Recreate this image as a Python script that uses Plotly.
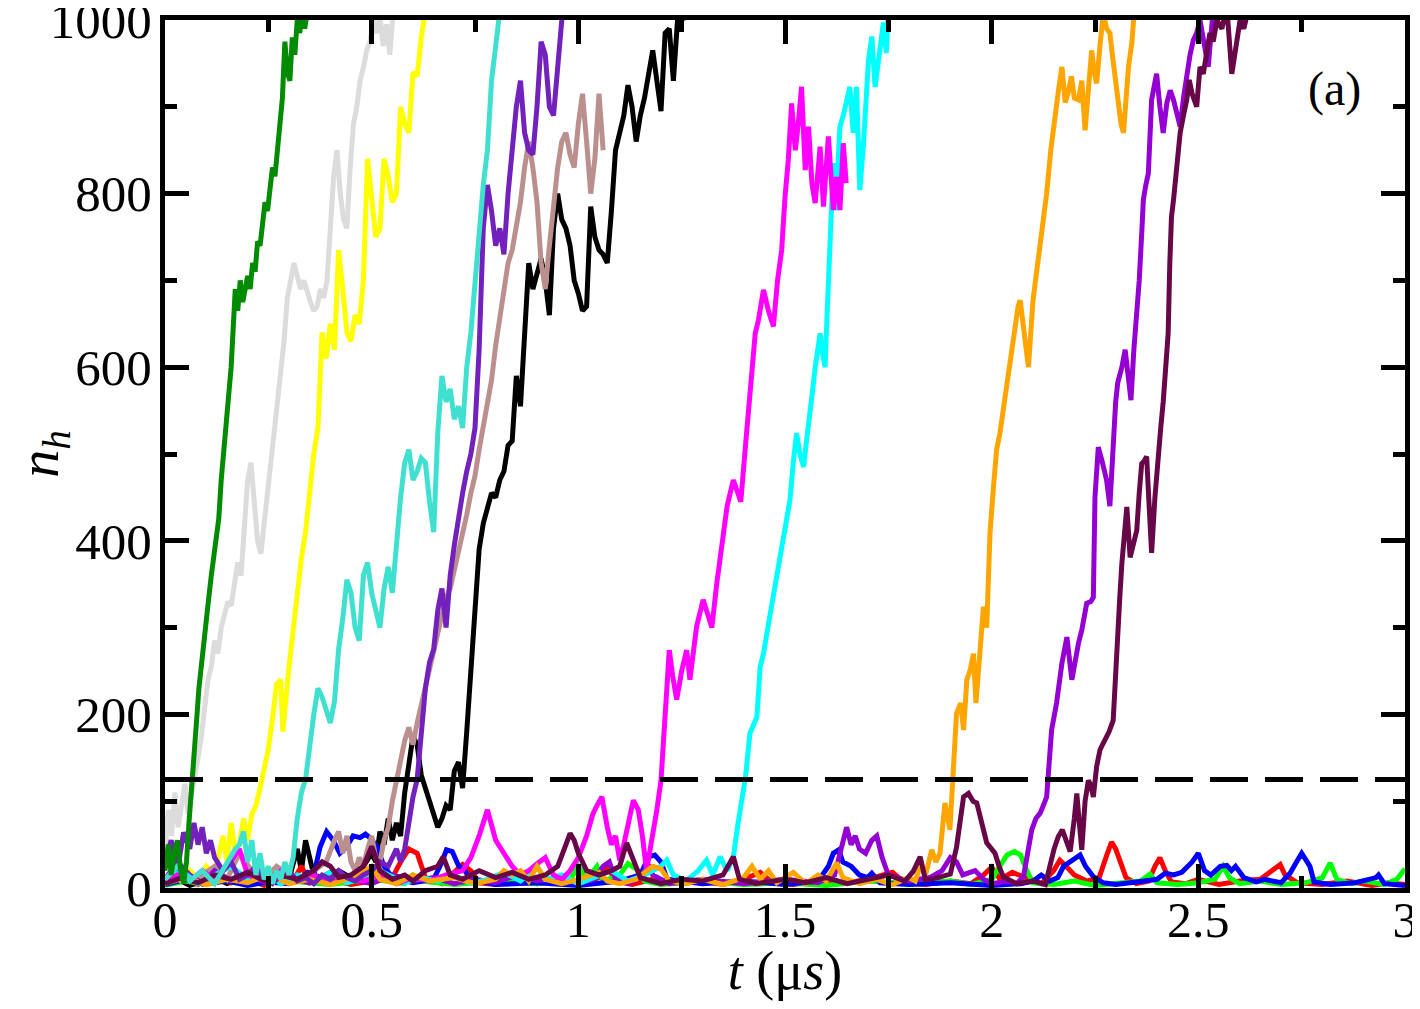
import plotly.graph_objects as go

# n_h trajectories, as (t in us, n_h) pairs
black = [(0, 5), (0.03, 10), (0.06, 3), (0.09, 8), (0.12, 12), (0.15, 5), (0.18, 10), (0.21, 4), (0.24, 8),
         (0.27, 15), (0.3, 10), (0.32, 45), (0.33, 20), (0.34, 55), (0.36, 15), (0.39, 10), (0.42, 20),
         (0.45, 12), (0.48, 25), (0.5, 40), (0.51, 30), (0.52, 65), (0.53, 50), (0.54, 80), (0.55, 55),
         (0.56, 75), (0.57, 60), (0.58, 110), (0.59, 140), (0.6, 175), (0.61, 165), (0.62, 130), (0.63, 115),
         (0.64, 100), (0.65, 85), (0.66, 70), (0.67, 80), (0.68, 95), (0.69, 90), (0.7, 135), (0.71, 145),
         (0.72, 115), (0.73, 180), (0.74, 250), (0.75, 330), (0.76, 390), (0.77, 420), (0.78, 440), (0.79, 455),
         (0.8, 450), (0.81, 470), (0.82, 480), (0.83, 510), (0.84, 515), (0.85, 590), (0.86, 555), (0.87, 640),
         (0.88, 720), (0.89, 690), (0.9, 710), (0.91, 725), (0.92, 700), (0.93, 660), (0.94, 760), (0.95, 800),
         (0.96, 770), (0.97, 760), (0.98, 740), (0.99, 700), (1.0, 685), (1.01, 665), (1.02, 670), (1.03, 785),
         (1.04, 750), (1.05, 735), (1.06, 730), (1.07, 720), (1.08, 780), (1.09, 850), (1.1, 870), (1.11, 890),
         (1.12, 925), (1.13, 900), (1.14, 860), (1.15, 890), (1.16, 910), (1.17, 940), (1.18, 965), (1.19, 930),
         (1.2, 895), (1.21, 985), (1.22, 990), (1.23, 930), (1.24, 1000), (1.25, 1010), (1.26, 1000)]

red = [(0, 5), (0.04, 12), (0.08, 4), (0.12, 15), (0.16, 6), (0.2, 10), (0.24, 3), (0.28, 12), (0.31, 8),
       (0.33, 25), (0.35, 6), (0.4, 10), (0.45, 4), (0.5, 8), (0.55, 12), (0.57, 30), (0.59, 45), (0.61, 40),
       (0.63, 12), (0.67, 5), (0.7, 18), (0.72, 27), (0.74, 20), (0.76, 6), (0.8, 4), (0.85, 10), (0.9, 5),
       (0.95, 8), (1.0, 4), (1.05, 12), (1.07, 25), (1.09, 8), (1.13, 4), (1.18, 10), (1.25, 5), (1.3, 8),
       (1.35, 4), (1.4, 10), (1.44, 18), (1.47, 6), (1.52, 4), (1.58, 8), (1.64, 5), (1.7, 10), (1.76, 18),
       (1.79, 6), (1.84, 4), (1.9, 8), (1.95, 5), (1.98, 15), (2.0, 24), (2.02, 10), (2.05, 18), (2.08, 12),
       (2.12, 5), (2.15, 20), (2.165, 32), (2.18, 25), (2.2, 15), (2.23, 8), (2.26, 12), (2.28, 40),
       (2.29, 53), (2.3, 45), (2.31, 32), (2.325, 12), (2.35, 5), (2.38, 8), (2.395, 25), (2.407, 35),
       (2.42, 20), (2.435, 7), (2.47, 5), (2.5, 10), (2.55, 4), (2.6, 8), (2.65, 10), (2.68, 20), (2.698, 27),
       (2.71, 15), (2.74, 6), (2.8, 4), (2.86, 8), (2.92, 3), (2.96, 6), (3.0, 4)]

lime = [(0, 3), (0.05, 8), (0.1, 4), (0.15, 10), (0.2, 5), (0.3, 8), (0.4, 4), (0.5, 10), (0.58, 5), (0.6, 15),
        (0.62, 8), (0.7, 4), (0.8, 8), (0.9, 5), (0.98, 10), (1.0, 25), (1.02, 10), (1.045, 25), (1.06, 8),
        (1.1, 15), (1.12, 28), (1.14, 22), (1.16, 8), (1.2, 4), (1.3, 8), (1.4, 4), (1.5, 6), (1.6, 3), (1.7, 8),
        (1.8, 5), (1.9, 8), (1.95, 4), (2.0, 10), (2.02, 25), (2.037, 38), (2.055, 42), (2.07, 38), (2.085, 20),
        (2.1, 6), (2.15, 4), (2.2, 8), (2.25, 3), (2.3, 5), (2.36, 8), (2.383, 16), (2.4, 6), (2.45, 4),
        (2.5, 6), (2.54, 10), (2.56, 25), (2.575, 12), (2.6, 5), (2.65, 8), (2.7, 4), (2.76, 6), (2.8, 12),
        (2.819, 29), (2.835, 10), (2.87, 5), (2.9, 8), (2.95, 4), (2.98, 10), (3.0, 22)]

blue = [(0, 4), (0.05, 10), (0.1, 5), (0.15, 8), (0.2, 3), (0.25, 7), (0.3, 5), (0.33, 12), (0.345, 18),
        (0.36, 15), (0.375, 47), (0.391, 65), (0.407, 55), (0.423, 40), (0.44, 48), (0.455, 60), (0.472, 58),
        (0.485, 62), (0.496, 58), (0.512, 48), (0.53, 25), (0.55, 12), (0.6, 6), (0.65, 10), (0.67, 30),
        (0.681, 44), (0.695, 42), (0.71, 26), (0.725, 20), (0.74, 10), (0.8, 4), (0.9, 6), (1.0, 3), (1.1, 8),
        (1.15, 15), (1.17, 36), (1.185, 38), (1.2, 30), (1.215, 10), (1.3, 5), (1.4, 8), (1.5, 4), (1.58, 8),
        (1.605, 25), (1.617, 40), (1.63, 44), (1.64, 30), (1.66, 25), (1.68, 15), (1.7, 12), (1.71, 17),
        (1.73, 6), (1.8, 4), (1.9, 6), (2.0, 3), (2.07, 5), (2.1, 8), (2.12, 15), (2.14, 8), (2.16, 12),
        (2.174, 25), (2.19, 30), (2.198, 32), (2.214, 38), (2.227, 25), (2.246, 13), (2.27, 6), (2.3, 4),
        (2.35, 7), (2.4, 10), (2.42, 17), (2.44, 15), (2.46, 18), (2.485, 30), (2.5, 40), (2.515, 20),
        (2.53, 15), (2.553, 25), (2.569, 26), (2.58, 20), (2.59, 25), (2.61, 12), (2.64, 7), (2.66, 10),
        (2.7, 6), (2.722, 17), (2.735, 28), (2.75, 40), (2.77, 25), (2.78, 7), (2.82, 4), (2.88, 6),
        (2.93, 12), (2.936, 15), (2.95, 5), (3.0, 3)]

yellow = [(0, 5), (0.02, 15), (0.04, 8), (0.06, 20), (0.08, 10), (0.1, 25), (0.12, 15), (0.14, 60), (0.15, 30),
          (0.16, 75), (0.17, 40), (0.18, 50), (0.19, 80), (0.2, 55), (0.21, 85), (0.22, 95), (0.23, 115),
          (0.24, 135), (0.25, 160), (0.26, 195), (0.27, 235), (0.28, 240), (0.285, 180), (0.3, 255),
          (0.31, 300), (0.32, 340), (0.33, 380), (0.34, 410), (0.35, 460), (0.36, 500), (0.37, 530),
          (0.38, 640), (0.39, 610), (0.4, 650), (0.41, 620), (0.42, 735), (0.43, 690), (0.44, 640), (0.45, 630),
          (0.46, 660), (0.47, 650), (0.48, 700), (0.49, 840), (0.5, 790), (0.51, 750), (0.52, 760), (0.53, 840),
          (0.54, 820), (0.55, 790), (0.56, 800), (0.57, 900), (0.58, 880), (0.59, 870), (0.6, 940), (0.61, 935),
          (0.62, 980), (0.63, 1010)]

brown = [(0, 10), (0.03, 20), (0.06, 8), (0.09, 15), (0.12, 25), (0.15, 10), (0.18, 40), (0.21, 20), (0.24, 10),
         (0.27, 25), (0.3, 15), (0.33, 10), (0.36, 20), (0.39, 30), (0.41, 55), (0.42, 65), (0.43, 40), (0.44, 60),
         (0.45, 30), (0.46, 20), (0.47, 35), (0.48, 25), (0.49, 45), (0.5, 60), (0.51, 35), (0.52, 30), (0.53, 55),
         (0.54, 70), (0.55, 100), (0.56, 125), (0.57, 150), (0.58, 170), (0.59, 185), (0.6, 165), (0.61, 190),
         (0.62, 210), (0.63, 235), (0.64, 255), (0.65, 270), (0.66, 290), (0.67, 315), (0.68, 335), (0.69, 345),
         (0.7, 365), (0.71, 390), (0.72, 410), (0.73, 430), (0.74, 455), (0.75, 475), (0.76, 505), (0.77, 530),
         (0.78, 560), (0.79, 585), (0.8, 625), (0.81, 660), (0.82, 690), (0.83, 720), (0.84, 735), (0.85, 760),
         (0.86, 790), (0.87, 830), (0.88, 860), (0.89, 830), (0.9, 790), (0.91, 720), (0.92, 690), (0.93, 740),
         (0.94, 790), (0.95, 830), (0.96, 860), (0.97, 870), (0.98, 845), (0.99, 830), (1.0, 880), (1.01, 915),
         (1.02, 860), (1.03, 800), (1.04, 840), (1.05, 915), (1.06, 850)]

grey = [(0, 40), (0.008, 90), (0.016, 60), (0.024, 110), (0.032, 70), (0.04, 95), (0.048, 120), (0.056, 85),
        (0.064, 105), (0.072, 130), (0.08, 150), (0.088, 175), (0.096, 210), (0.104, 240), (0.112, 255),
        (0.12, 285), (0.128, 270), (0.136, 300), (0.144, 315), (0.152, 330), (0.16, 325), (0.168, 350),
        (0.176, 375), (0.184, 360), (0.192, 420), (0.2, 470), (0.208, 490), (0.216, 450), (0.224, 400),
        (0.232, 385), (0.24, 420), (0.248, 450), (0.256, 480), (0.264, 520), (0.272, 560), (0.28, 590),
        (0.288, 630), (0.296, 680), (0.304, 700), (0.312, 720), (0.32, 705), (0.328, 690), (0.336, 700),
        (0.344, 685), (0.352, 675), (0.36, 665), (0.368, 670), (0.376, 690), (0.384, 680), (0.392, 700),
        (0.4, 760), (0.408, 820), (0.416, 850), (0.424, 800), (0.432, 770), (0.44, 760), (0.448, 830),
        (0.456, 880), (0.464, 900), (0.472, 930), (0.48, 945), (0.488, 965), (0.496, 975), (0.504, 1000),
        (0.512, 985), (0.52, 1005), (0.528, 970), (0.536, 995), (0.544, 960), (0.552, 1010)]

violet = [(0, 10), (0.03, 30), (0.06, 15), (0.09, 5), (0.12, 20), (0.16, 8), (0.2, 15), (0.25, 5), (0.3, 12),
          (0.35, 6), (0.4, 18), (0.45, 10), (0.5, 5), (0.55, 15), (0.6, 8), (0.65, 12), (0.7, 5), (0.75, 10),
          (0.8, 6), (0.85, 15), (0.9, 8), (0.95, 12), (1.0, 5), (1.04, 10), (1.06, 25), (1.075, 30), (1.09, 10),
          (1.12, 5), (1.15, 12), (1.17, 27), (1.18, 15), (1.22, 5), (1.3, 10), (1.4, 5), (1.5, 10), (1.58, 6),
          (1.62, 15), (1.635, 45), (1.649, 70), (1.66, 50), (1.67, 60), (1.68, 45), (1.695, 40), (1.71, 55),
          (1.722, 60), (1.735, 35), (1.75, 15), (1.8, 8), (1.85, 12), (1.88, 20), (1.9, 35), (1.915, 30),
          (1.93, 15), (1.96, 20), (1.98, 10), (2.0, 5), (2.04, 8), (2.06, 5), (2.077, 13), (2.087, 40),
          (2.097, 67), (2.107, 80), (2.117, 86), (2.125, 95), (2.133, 105), (2.145, 182), (2.157, 213),
          (2.17, 259), (2.182, 289), (2.194, 240), (2.202, 265), (2.21, 282), (2.218, 297), (2.23, 328),
          (2.24, 330), (2.246, 335), (2.25, 451), (2.258, 508), (2.268, 490), (2.278, 470), (2.286, 440),
          (2.295, 527), (2.3, 560), (2.305, 582), (2.315, 600), (2.323, 620), (2.33, 585), (2.337, 562),
          (2.344, 620), (2.351, 662), (2.357, 700), (2.363, 754), (2.367, 793), (2.373, 810), (2.379, 823),
          (2.387, 908), (2.393, 925), (2.399, 938), (2.407, 900), (2.415, 870), (2.424, 905), (2.432, 919),
          (2.44, 908), (2.448, 895), (2.456, 877), (2.464, 910), (2.472, 938), (2.48, 960), (2.488, 977),
          (2.496, 985), (2.504, 1000), (2.515, 970), (2.524, 946), (2.53, 980), (2.536, 1010)]

cyan = [(0, 8), (0.04, 20), (0.08, 5), (0.12, 15), (0.16, 25), (0.2, 10), (0.24, 20), (0.28, 5), (0.32, 15),
        (0.36, 8), (0.4, 18), (0.44, 6), (0.48, 12), (0.52, 20), (0.54, 15), (0.58, 6), (0.62, 12), (0.66, 8),
        (0.7, 15), (0.74, 5), (0.78, 10), (0.82, 18), (0.86, 8), (0.9, 25), (0.92, 10), (0.96, 15), (1.0, 5),
        (1.04, 12), (1.08, 20), (1.12, 8), (1.16, 15), (1.2, 25), (1.214, 32), (1.23, 15), (1.26, 8),
        (1.29, 20), (1.31, 32), (1.325, 15), (1.343, 36), (1.36, 20), (1.375, 35), (1.385, 70), (1.395, 100),
        (1.405, 130), (1.415, 178), (1.425, 190), (1.432, 197), (1.44, 255), (1.448, 270), (1.456, 293),
        (1.466, 320), (1.476, 351), (1.486, 375), (1.496, 409), (1.504, 430), (1.512, 447), (1.52, 490),
        (1.528, 524), (1.536, 500), (1.545, 485), (1.552, 515), (1.56, 543), (1.566, 570), (1.573, 600),
        (1.58, 620), (1.585, 639), (1.591, 615), (1.597, 600), (1.601, 651), (1.609, 743), (1.617, 835),
        (1.622, 781), (1.633, 877), (1.641, 890), (1.649, 908), (1.657, 923), (1.665, 870), (1.673, 923),
        (1.681, 804), (1.69, 858), (1.702, 954), (1.71, 981), (1.718, 923), (1.73, 973), (1.738, 997),
        (1.745, 962), (1.75, 1010)]

magenta = [(0, 5), (0.03, 15), (0.06, 8), (0.09, 20), (0.12, 10), (0.15, 25), (0.18, 45), (0.2, 15), (0.24, 8),
           (0.28, 20), (0.32, 10), (0.36, 15), (0.4, 5), (0.44, 12), (0.48, 8), (0.52, 15), (0.56, 5), (0.6, 12),
           (0.64, 8), (0.68, 15), (0.72, 20), (0.74, 35), (0.76, 60), (0.78, 90), (0.8, 55), (0.82, 40),
           (0.84, 25), (0.86, 15), (0.88, 20), (0.9, 28), (0.92, 35), (0.94, 15), (0.96, 10), (0.98, 20),
           (1.0, 35), (1.02, 60), (1.035, 85), (1.045, 95), (1.057, 105), (1.07, 70), (1.08, 50), (1.09, 60),
           (1.1, 32), (1.11, 50), (1.12, 75), (1.133, 101), (1.145, 90), (1.155, 60), (1.165, 20), (1.178, 55),
           (1.19, 90), (1.2, 124), (1.205, 160), (1.21, 200), (1.215, 250), (1.22, 274), (1.228, 245),
           (1.238, 217), (1.25, 250), (1.262, 274), (1.27, 240), (1.286, 301), (1.302, 332), (1.315, 310),
           (1.323, 300), (1.335, 351), (1.351, 409), (1.36, 440), (1.375, 470), (1.385, 455), (1.393, 445),
           (1.407, 524), (1.415, 570), (1.428, 639), (1.436, 655), (1.448, 689), (1.46, 665), (1.472, 647),
           (1.482, 700), (1.492, 735), (1.5, 796), (1.508, 839), (1.516, 904), (1.525, 850), (1.532, 880),
           (1.54, 923), (1.549, 827), (1.557, 877), (1.565, 812), (1.573, 789), (1.585, 854), (1.593, 785),
           (1.605, 866), (1.617, 781), (1.625, 819), (1.633, 781), (1.641, 858), (1.648, 812)]

orange = [(0, 5), (0.05, 12), (0.1, 4), (0.15, 10), (0.2, 6), (0.25, 15), (0.3, 5), (0.35, 10), (0.4, 4),
          (0.45, 12), (0.5, 25), (0.52, 10), (0.56, 5), (0.6, 15), (0.64, 8), (0.7, 12), (0.75, 5), (0.8, 10),
          (0.82, 20), (0.84, 15), (0.86, 20), (0.88, 8), (0.9, 25), (0.92, 10), (0.96, 5), (1.0, 10), (1.05, 18),
          (1.07, 8), (1.1, 5), (1.14, 10), (1.18, 25), (1.2, 22), (1.22, 8), (1.26, 5), (1.3, 10), (1.35, 4),
          (1.4, 12), (1.42, 25), (1.44, 10), (1.46, 20), (1.48, 6), (1.52, 18), (1.55, 5), (1.58, 15), (1.6, 8),
          (1.625, 29), (1.64, 12), (1.68, 5), (1.72, 10), (1.76, 4), (1.8, 12), (1.815, 8), (1.827, 25),
          (1.84, 15), (1.855, 44), (1.865, 30), (1.875, 40), (1.887, 98), (1.899, 67), (1.907, 124),
          (1.915, 201), (1.925, 213), (1.932, 182), (1.94, 240), (1.948, 251), (1.956, 270), (1.962, 213),
          (1.972, 274), (1.98, 324), (1.988, 300), (1.996, 409), (2.004, 460), (2.012, 505), (2.02, 524),
          (2.028, 551), (2.036, 582), (2.044, 610), (2.052, 631), (2.058, 660), (2.064, 670), (2.069, 677),
          (2.076, 650), (2.082, 620), (2.089, 600), (2.1, 677), (2.109, 708), (2.117, 740), (2.125, 773),
          (2.133, 800), (2.143, 850), (2.153, 892), (2.162, 920), (2.17, 946), (2.178, 905), (2.185, 916),
          (2.193, 935), (2.2, 910), (2.21, 908), (2.218, 930), (2.226, 873), (2.234, 920), (2.242, 965),
          (2.248, 940), (2.254, 927), (2.262, 970), (2.27, 1008), (2.278, 990), (2.286, 985), (2.292, 960),
          (2.298, 935), (2.307, 896), (2.313, 880), (2.319, 870), (2.325, 910), (2.331, 946), (2.339, 973),
          (2.345, 1010)]

indigo = [(0, 30), (0.015, 55), (0.03, 20), (0.045, 64), (0.06, 45), (0.07, 75), (0.08, 50), (0.09, 70),
          (0.1, 40), (0.11, 55), (0.12, 35), (0.14, 20), (0.16, 30), (0.18, 10), (0.2, 15), (0.22, 25),
          (0.24, 10), (0.26, 5), (0.28, 15), (0.3, 20), (0.32, 8), (0.34, 12), (0.36, 5), (0.38, 15), (0.4, 10),
          (0.42, 20), (0.44, 12), (0.46, 8), (0.48, 15), (0.5, 20), (0.52, 30), (0.54, 25), (0.56, 45),
          (0.57, 30), (0.58, 45), (0.59, 75), (0.6, 105), (0.61, 125), (0.62, 180), (0.63, 230), (0.64, 260),
          (0.65, 275), (0.66, 320), (0.67, 345), (0.68, 300), (0.69, 360), (0.7, 395), (0.71, 430), (0.72, 455),
          (0.73, 480), (0.74, 500), (0.75, 530), (0.76, 620), (0.77, 760), (0.78, 810), (0.79, 780), (0.8, 740),
          (0.81, 760), (0.82, 730), (0.83, 800), (0.84, 850), (0.85, 900), (0.86, 930), (0.87, 870), (0.88, 850),
          (0.89, 845), (0.9, 900), (0.91, 975), (0.92, 960), (0.93, 900), (0.94, 890), (0.95, 950), (0.96, 1000),
          (0.97, 1010)]

maroon = [(0, 5), (0.04, 12), (0.08, 6), (0.12, 15), (0.16, 10), (0.2, 18), (0.24, 8), (0.28, 15), (0.32, 10),
          (0.36, 20), (0.38, 30), (0.4, 25), (0.42, 12), (0.45, 15), (0.48, 25), (0.5, 48), (0.51, 35),
          (0.52, 20), (0.55, 10), (0.58, 15), (0.6, 8), (0.63, 20), (0.66, 25), (0.673, 36), (0.69, 15),
          (0.72, 10), (0.76, 20), (0.8, 12), (0.84, 18), (0.88, 10), (0.92, 15), (0.95, 25), (0.97, 50),
          (0.98, 63), (0.99, 55), (1.0, 40), (1.02, 20), (1.05, 15), (1.08, 20), (1.1, 25), (1.117, 52),
          (1.13, 35), (1.15, 12), (1.2, 5), (1.25, 10), (1.3, 8), (1.35, 15), (1.375, 36), (1.39, 10), (1.43, 5),
          (1.5, 10), (1.55, 6), (1.6, 12), (1.65, 5), (1.7, 10), (1.75, 15), (1.79, 8), (1.81, 19), (1.827, 36),
          (1.84, 9), (1.87, 12), (1.9, 16), (1.915, 47), (1.932, 105), (1.944, 109), (1.955, 100), (1.964, 98),
          (1.976, 75), (1.988, 52), (2.0, 45), (2.008, 40), (2.018, 25), (2.028, 13), (2.06, 5), (2.1, 8),
          (2.13, 4), (2.141, 29), (2.151, 45), (2.161, 59), (2.171, 67), (2.18, 55), (2.19, 42), (2.2, 80),
          (2.206, 109), (2.212, 75), (2.218, 44), (2.226, 100), (2.234, 124), (2.24, 118), (2.246, 105),
          (2.254, 140), (2.262, 159), (2.268, 165), (2.274, 170), (2.284, 180), (2.294, 193), (2.3, 250),
          (2.303, 297), (2.31, 335), (2.315, 374), (2.321, 410), (2.327, 439), (2.335, 381), (2.343, 400),
          (2.351, 412), (2.357, 455), (2.363, 489), (2.369, 492), (2.375, 497), (2.381, 440), (2.387, 386),
          (2.395, 450), (2.403, 508), (2.409, 530), (2.415, 560), (2.421, 600), (2.427, 639), (2.431, 720),
          (2.435, 773), (2.44, 793), (2.448, 830), (2.456, 870), (2.464, 890), (2.472, 908), (2.478, 931),
          (2.485, 915), (2.496, 900), (2.504, 946), (2.512, 938), (2.52, 960), (2.528, 985), (2.536, 975),
          (2.545, 1000), (2.557, 990), (2.569, 1015), (2.581, 938), (2.59, 970), (2.601, 1000), (2.61, 990),
          (2.62, 1010)]

turquoise = [(0, 10), (0.03, 25), (0.06, 8), (0.09, 20), (0.12, 5), (0.15, 30), (0.17, 45), (0.18, 50),
             (0.19, 65), (0.2, 30), (0.21, 55), (0.22, 15), (0.23, 40), (0.24, 10), (0.25, 25), (0.26, 5),
             (0.27, 20), (0.28, 10), (0.29, 30), (0.3, 15), (0.31, 35), (0.32, 80), (0.33, 110), (0.34, 125),
             (0.35, 165), (0.36, 200), (0.37, 230), (0.38, 220), (0.39, 205), (0.4, 190), (0.41, 215),
             (0.42, 275), (0.43, 310), (0.44, 355), (0.45, 340), (0.46, 300), (0.47, 285), (0.48, 360),
             (0.49, 375), (0.5, 340), (0.51, 320), (0.52, 300), (0.53, 345), (0.54, 370), (0.55, 340),
             (0.56, 400), (0.57, 450), (0.58, 490), (0.59, 505), (0.6, 470), (0.61, 480), (0.62, 495),
             (0.63, 490), (0.64, 445), (0.65, 410), (0.66, 525), (0.67, 590), (0.68, 560), (0.69, 575),
             (0.7, 540), (0.71, 555), (0.72, 530), (0.73, 600), (0.74, 640), (0.75, 700), (0.76, 755),
             (0.77, 810), (0.78, 850), (0.79, 930), (0.8, 970), (0.81, 1010)]

green4 = [(0, 20), (0.008, 50), (0.015, 15), (0.022, 40), (0.03, 55), (0.038, 20), (0.045, 5), (0.052, 30),
          (0.058, 75), (0.064, 120), (0.07, 150), (0.076, 190), (0.082, 230), (0.088, 260), (0.094, 290),
          (0.1, 310), (0.106, 335), (0.112, 360), (0.118, 385), (0.124, 410), (0.13, 425), (0.136, 470),
          (0.142, 500), (0.148, 530), (0.154, 560), (0.16, 600), (0.165, 645), (0.17, 690), (0.176, 665),
          (0.182, 700), (0.188, 675), (0.194, 690), (0.2, 705), (0.206, 690), (0.212, 720), (0.218, 710),
          (0.224, 745), (0.23, 740), (0.236, 770), (0.242, 790), (0.248, 780), (0.254, 810), (0.26, 830),
          (0.266, 820), (0.272, 860), (0.278, 880), (0.284, 910), (0.29, 975), (0.296, 940), (0.302, 930),
          (0.308, 980), (0.314, 960), (0.32, 1000), (0.326, 985), (0.332, 1010), (0.338, 990), (0.344, 1010),
          (0.35, 1000)]

threshold = 125
x_ticks = [0, 0.5, 1, 1.5, 2, 2.5, 3]
y_ticks = [0, 200, 400, 600, 800, 1000]

# drawing order and colours follow the xmgrace default palette
series = [
    (black, "#000000"), (red, "#ff0000"), (lime, "#00ff00"), (blue, "#0000ff"),
    (yellow, "#ffff00"), (brown, "#bc8f8f"), (grey, "#dcdcdc"), (violet, "#9400d3"),
    (cyan, "#00ffff"), (magenta, "#ff00ff"), (orange, "#ffa500"), (indigo, "#7221bc"),
    (maroon, "#670748"), (turquoise, "#40e0d0"), (green4, "#008b00"),
]

serif = "Liberation Serif"

fig = go.Figure()
for pts, col in series:
    t, n = zip(*pts)
    fig.add_trace(go.Scatter(x=list(t), y=list(n), mode="lines",
                             line=dict(color=col, width=5), showlegend=False))

fig.add_trace(go.Scatter(x=[0, 3], y=[threshold, threshold], mode="lines",
                         line=dict(color="black", width=5, dash="38px,17px"), showlegend=False))

axis_common = dict(
    showline=True, linecolor="black", linewidth=5, mirror="ticks",
    ticks="inside", ticklen=24, tickwidth=5, tickcolor="black",
    showgrid=False, zeroline=False, automargin=False,
    ticklabeloverflow="allow", tickmode="array",
)

fig.update_xaxes(range=[0, 3], tickvals=x_ticks, ticktext=[f"{v:g}" for v in x_ticks],
                 tickfont=dict(family=serif, size=50, color="black"), ticklabelstandoff=-16,
                 minor=dict(ticks="inside", ticklen=12, tickwidth=5, dtick=0.25, tick0=0,
                            tickcolor="black", showgrid=False),
                 title=dict(text="<i>t</i> (μ<i>s</i>)", font=dict(family=serif, size=54, color="black"),
                            standoff=0),
                 **axis_common)
fig.update_yaxes(range=[0, 1000], tickvals=y_ticks, ticktext=[str(v) for v in y_ticks],
                 tickfont=dict(family=serif, size=51, color="black"), ticklabelstandoff=-2,
                 minor=dict(ticks="inside", ticklen=12, tickwidth=5, dtick=100, tick0=0,
                            tickcolor="black", showgrid=False),
                 title=dict(text="<i>n</i><sub><i>h</i></sub>", font=dict(family=serif, size=56, color="black"),
                            standoff=14),
                 **axis_common)

fig.add_annotation(text="(a)", x=0.943, y=0.92, xref="paper", yref="paper", showarrow=False,
                   xanchor="center", yanchor="middle",
                   font=dict(family=serif, size=48, color="black"))

# the page body keeps an 8px margin; the figure is sized so the plot box lands where the reference has it
fig.update_layout(width=1412, height=993,
                  margin=dict(l=157, r=15, t=12, b=113, autoexpand=False),
                  paper_bgcolor="white", plot_bgcolor="white")

fig.write_html("out.html")
